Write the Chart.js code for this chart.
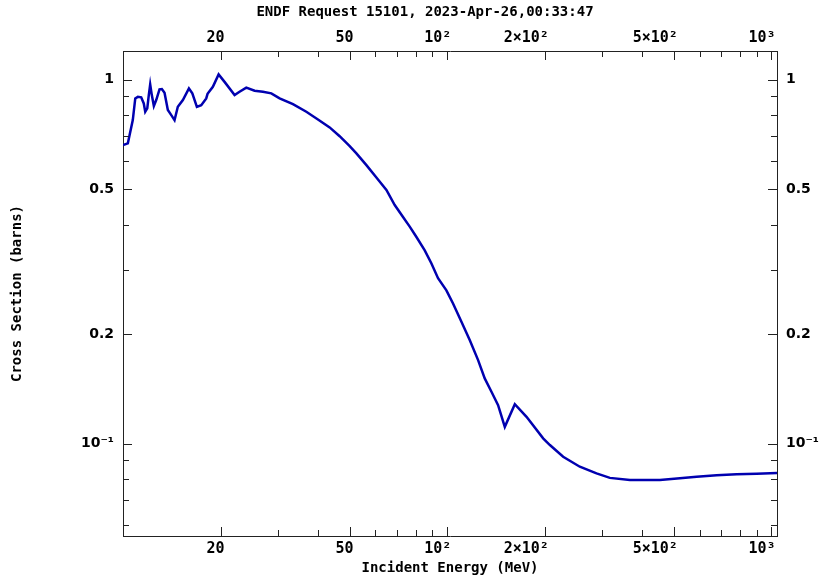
<!DOCTYPE html>
<html>
<head>
<meta charset="utf-8">
<title>ENDF Request 15101</title>
<script src="https://cdn.jsdelivr.net/npm/chart.js@4"></script>
<style>
  html, body { margin: 0; padding: 0; background: #fff; }
  #wrap { width: 819px; height: 578px; }
</style>
</head>
<body>
<div id="wrap"><canvas id="xsChart" width="819" height="578"></canvas></div>
<script>
// incident energy (MeV) and cross section (barns)
const energy = [10.0, 10.35, 10.72, 10.91, 11.11, 11.38, 11.59, 11.71, 11.88, 12.01,
  12.13, 12.27, 12.45, 12.66, 12.96, 13.18, 13.43, 13.75, 14.09, 14.42,
  14.76, 15.30, 15.97, 16.36, 16.90, 17.43, 18.06, 18.23, 18.93, 19.72,
  20.57, 22.09, 22.88, 24.0, 25.46, 27.01, 28.67, 30.41, 33.43, 36.76,
  39.93, 43.39, 46.58, 50.02, 52.46, 56.32, 60.46, 64.92, 68.87, 73.05,
  76.61, 80.35, 85.23, 89.39, 93.67, 99.4, 104.2, 110.6, 117.3, 124.5,
  130.5, 136.9, 143.5, 150.5, 161.6, 175.6, 197.6, 207.3, 227.8, 256.4,
  288.7, 317.4, 365.9, 452.8, 521.9, 587.6, 677.5, 780.7, 900, 1040];
const crossSection = [0.662, 0.669, 0.775, 0.889, 0.898, 0.895, 0.861, 0.817, 0.835, 0.908,
  0.971, 0.908, 0.847, 0.880, 0.941, 0.943, 0.921, 0.826, 0.800, 0.775,
  0.843, 0.880, 0.947, 0.918, 0.843, 0.852, 0.889, 0.915, 0.957, 1.035,
  0.987, 0.908, 0.927, 0.952, 0.933, 0.927, 0.918, 0.889, 0.857, 0.817,
  0.778, 0.740, 0.700, 0.657, 0.628, 0.583, 0.539, 0.498, 0.453, 0.420,
  0.395, 0.370, 0.340, 0.313, 0.285, 0.264, 0.243, 0.2163, 0.1927, 0.1698,
  0.1512, 0.1390, 0.1277, 0.1113, 0.1285, 0.1186, 0.1035, 0.0992, 0.0921, 0.0865,
  0.0829, 0.0806, 0.0795, 0.0795, 0.0804, 0.0812, 0.0820, 0.0825, 0.0827, 0.0831];

const xMajor = [20, 50, 100, 200, 500, 1000];
const xLabels = ['20', '50', '10²', '2×10²', '5×10²', '10³'];
const xMinor = [30, 40, 60, 70, 80, 90, 300, 400, 600, 700, 800, 900];
const yMajor = [0.1, 0.2, 0.5, 1];
const yLabels = ['10⁻¹', '0.2', '0.5', '1'];
const yMinor = [0.06, 0.07, 0.08, 0.09, 0.3, 0.4, 0.6, 0.7, 0.8, 0.9];

const titleText = 'ENDF Request 15101, 2023-Apr-26,00:33:47';
const xTitle = 'Incident Energy (MeV)';
const yTitle = 'Cross Section (barns)';

const monoFont = '"DejaVu Sans Mono", monospace';
const ink = '#222';

// short inward tick marks on all four sides, longer for labelled ones
const tickMarks = {
  id: 'tickMarks',
  afterDraw(chart) {
    const ctx = chart.ctx, a = chart.chartArea;
    ctx.save();
    ctx.strokeStyle = ink;
    ctx.lineWidth = 1;
    Object.values(chart.scales).forEach(s => {
      s.ticks.forEach(t => {
        const len = t.label ? 9 : 6;
        const p = Math.round(s.getPixelForValue(t.value)) + 0.5;
        ctx.beginPath();
        if (s.isHorizontal()) {
          const y0 = s.position === 'top' ? a.top : a.bottom;
          ctx.moveTo(p, y0);
          ctx.lineTo(p, y0 + (s.position === 'top' ? len : -len));
        } else {
          const x0 = s.position === 'left' ? a.left : a.right;
          ctx.moveTo(x0, p);
          ctx.lineTo(x0 + (s.position === 'left' ? len : -len), p);
        }
        ctx.stroke();
      });
    });
    ctx.restore();
  }
};

const titles = {
  id: 'titles',
  afterDraw(chart) {
    const ctx = chart.ctx, a = chart.chartArea;
    ctx.save();
    ctx.fillStyle = '#000';
    ctx.font = 'bold 14px ' + monoFont;
    ctx.textAlign = 'center';
    ctx.textBaseline = 'middle';
    ctx.fillText(titleText, 425, 12);
    ctx.fillText(xTitle, (a.left + a.right) / 2, 568);
    ctx.translate(17, (a.top + a.bottom) / 2);
    ctx.rotate(-Math.PI / 2);
    ctx.fillText(yTitle, 0, 0);
    ctx.restore();
  }
};

function xAxis(position, size) {
  return {
    type: 'logarithmic',
    position: position,
    min: 10,
    max: 1040,
    afterBuildTicks: s => { s.ticks = xMajor.concat(xMinor).map(v => ({ value: v })); },
    afterFit: s => { s.height = size; },
    grid: { display: false, drawTicks: false },
    border: { display: true, color: ink, width: 1 },
    ticks: {
      autoSkip: false,
      maxRotation: 0,
      align: 'end',
      labelOffset: 4,
      padding: 4,
      color: '#000',
      font: { family: monoFont, size: 15, weight: 'bold' },
      callback: v => { const i = xMajor.indexOf(v); return i >= 0 ? xLabels[i] : ''; }
    }
  };
}

function yAxis(position, size) {
  return {
    type: 'logarithmic',
    position: position,
    min: 0.0558,
    max: 1.2,
    afterBuildTicks: s => { s.ticks = yMajor.concat(yMinor).map(v => ({ value: v })); },
    afterFit: s => { s.width = size; },
    grid: { display: false, drawTicks: false },
    border: { display: true, color: ink, width: 1 },
    ticks: {
      autoSkip: false,
      padding: 9,
      color: '#000',
      font: { family: '"DejaVu Sans", sans-serif', size: 14, weight: 'bold' },
      callback: v => { const i = yMajor.indexOf(v); return i >= 0 ? yLabels[i] : ''; }
    }
  };
}

new Chart(document.getElementById('xsChart'), {
  type: 'line',
  data: {
    datasets: [{
      data: energy.map((e, i) => ({ x: e, y: crossSection[i] })),
      borderColor: '#0000b0',
      borderWidth: 2.5,
      pointRadius: 0,
      tension: 0,
      fill: false
    }]
  },
  options: {
    responsive: false,
    animation: false,
    layout: { padding: 0 },
    scales: {
      x: xAxis('bottom', 42),
      x2: xAxis('top', 51),
      y: yAxis('left', 123),
      y2: yAxis('right', 42)
    },
    plugins: {
      legend: { display: false },
      tooltip: { enabled: false }
    }
  },
  plugins: [tickMarks, titles]
});
</script>
</body>
</html>
